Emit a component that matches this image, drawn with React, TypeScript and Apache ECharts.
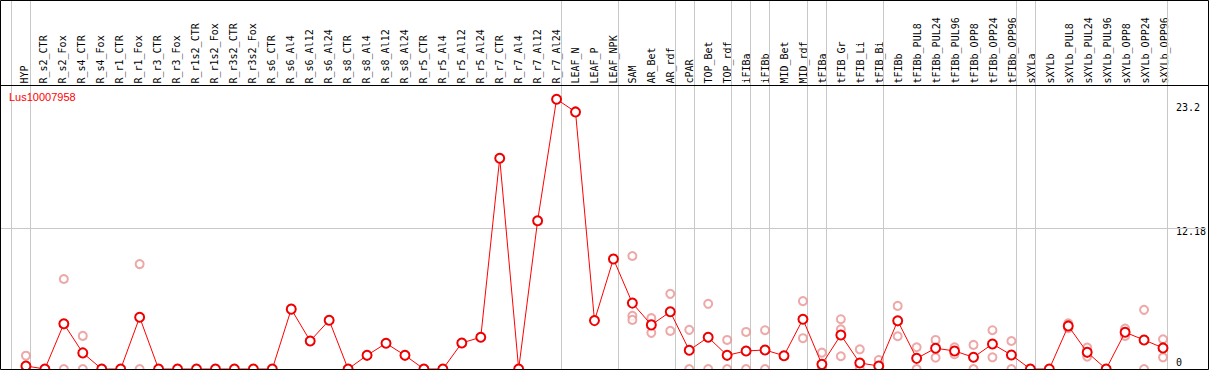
import React, { useEffect, useRef } from "react";
import * as echarts from "echarts";

// ---- data ----
const geneName = "Lus10007958";

const categories = [
  "HYP", "R_s2_CTR", "R_s2_Fox", "R_s4_CTR", "R_s4_Fox", "R_r1_CTR", "R_r1_Fox",
  "R_r3_CTR", "R_r3_Fox", "R_r1s2_CTR", "R_r1s2_Fox", "R_r3s2_CTR", "R_r3s2_Fox",
  "R_s6_CTR", "R_s6_Al4", "R_s6_Al12", "R_s6_Al24", "R_s8_CTR", "R_s8_Al4", "R_s8_Al12",
  "R_s8_Al24", "R_r5_CTR", "R_r5_Al4", "R_r5_Al12", "R_r5_Al24", "R_r7_CTR", "R_r7_Al4",
  "R_r7_Al12", "R_r7_Al24", "LEAF_N", "LEAF_P", "LEAF_NPK", "SAM", "AR_Bet", "AR_rdf",
  "cPAR", "TOP_Bet", "TOP_rdf", "iFIBa", "iFIBb", "MID_Bet", "MID_rdf", "tFIBa",
  "tFIB_Gr", "tFIB_Li", "tFIB_Bi", "tFIBb", "tFIBb_PUL8", "tFIBb_PUL24", "tFIBb_PUL96",
  "tFIBb_OPP8", "tFIBb_OPP24", "tFIBb_OPP96", "sXYLa", "sXYLb", "sXYLb_PUL8",
  "sXYLb_PUL24", "sXYLb_PUL96", "sXYLb_OPP8", "sXYLb_OPP24", "sXYLb_OPP96",
];

const meanValues = [
  0.26, 0, 3.9, 1.39, 0, 0, 4.47,
  0, 0, 0, 0, 0, 0,
  0, 5.17, 2.42, 4.21, 0, 1.18, 2.22,
  1.18, 0, 0, 2.25, 2.74, 18.2, 0,
  12.8, 23.3, 22.2, 4.18, 9.5, 5.69, 3.81, 4.94,
  1.62, 2.74, 1.18, 1.56, 1.64, 1.15, 4.3, 0.4,
  2.94, 0.52, 0.26, 4.16, 0.92, 1.79, 1.56,
  1.01, 2.16, 1.21, 0, 0, 3.72,
  1.44, 0, 3.17, 2.51, 1.82,
];

const replicateA = [
  1.15, null, 7.77, 2.86, null, null, 9.06,
  null, null, null, null, null, null,
  null, null, null, null, null, null, null,
  null, null, null, null, null, null, null,
  null, null, null, null, null, 9.76, 4.39, 6.49,
  3.38, 5.63, 2.51, 3.2, 3.35, null, 5.86, 1.41,
  4.3, 1.7, 0.78, 5.45, 1.88, 2.51, 1.88,
  2.08, 3.35, 2.42, null, null, 3.95,
  1.85, null, 3.49, 5.11, 2.57,
];

const replicateB = [
  0, null, 0, 0, null, null, 0,
  null, null, null, null, null, null,
  null, null, null, null, null, null, null,
  null, null, null, null, null, null, null,
  null, null, null, null, null, 4.59, 3.12, 3.29,
  0, 0, 0, 0, 0, null, 2.66, 0,
  3.43, 0, null, 2.83, 0, 0.98, 1.27,
  0, 1.01, 0, null, null, 3.52,
  1.07, null, 2.86, 0, 1.01,
];

const replicateC = [
  null, null, null, null, null, null, null,
  null, null, null, null, null, null,
  null, null, null, null, null, null, null,
  null, null, null, null, null, null, null,
  null, null, null, null, null, 4.24, null, null,
  null, null, null, null, null, null, null, null,
  1.1, null, null, null, null, null, null,
  null, null, null, null, null, null,
  null, null, null, null, null,
];

// index of the last category of each group (separator drawn just after it)
const groupEnds = [-1, 0, 28, 31, 34, 35, 37, 38, 39, 41, 42, 45, 52, 53, 60];
const yTickValues = [0, 12.18, 23.2];
const gridLineValue = 12.18;

// ---- layout ----
const W = 1209;
const H = 370;
const STEP = 19;
const FIRST_X = 26;
const LABEL_SHIFT = 2;
const PLOT_TOP = 85.5;
const ZERO_Y = 369;
const PX_PER_UNIT = 11.58;
const SEP_OFFSET = 4.5 / STEP;

export default function App() {
  const ref = useRef<HTMLDivElement | null>(null);

  useEffect(() => {
    if (!ref.current) return;
    const chart = echarts.init(ref.current, null, { renderer: "svg" });

    const meanData = meanValues.map((v, i) => [i, v]);
    const repData: number[][] = [];
    [replicateA, replicateB, replicateC].forEach((arr) => {
      arr.forEach((v, i) => {
        if (v !== null && v !== undefined) repData.push([i, v as number]);
      });
    });

    const mono = "'DejaVu Sans Mono', monospace";

    const option: any = {
      animation: false,
      backgroundColor: "#ffffff",
      title: {
        text: geneName,
        left: 9,
        top: 91,
        padding: 0,
        textStyle: {
          color: "#ff0000",
          fontSize: 11,
          fontWeight: "normal",
          fontFamily: "'Liberation Sans', Arial, sans-serif",
        },
      },
      grid: [
        { left: 0, right: 0, top: 0, bottom: H - ZERO_Y },
        {
          left: FIRST_X - STEP / 2 - LABEL_SHIFT,
          width: STEP * categories.length,
          top: PLOT_TOP,
          bottom: H - ZERO_Y,
        },
      ],
      xAxis: [
        {
          type: "value",
          gridIndex: 0,
          min: -FIRST_X / STEP,
          max: (W - FIRST_X) / STEP,
          show: false,
          splitLine: { show: false },
        },
        {
          type: "category",
          gridIndex: 1,
          position: "top",
          data: categories,
          boundaryGap: true,
          axisLine: { show: false },
          axisTick: { show: false },
          splitLine: { show: false },
          axisLabel: {
            rotate: 90,
            interval: 0,
            margin: 2,
            color: "#000",
            fontFamily: mono,
            fontSize: 10,
          },
        },
      ],
      yAxis: [
        {
          type: "value",
          gridIndex: 0,
          position: "right",
          min: 0,
          max: ZERO_Y / PX_PER_UNIT,
          axisLine: { show: false },
          axisTick: { show: false },
          splitLine: { show: false },
          axisLabel: {
            inside: true,
            customValues: yTickValues,
            margin: 30,
            align: "left",
            color: "#000",
            fontFamily: mono,
            fontSize: 10,
            formatter: (v: number) => {
              const key = v === 0 ? "z" : v === gridLineValue ? "m" : "t";
              return "{" + key + "|" + String(v) + "}";
            },
            rich: {
              z: { padding: [0, 0, 14, 0], fontFamily: mono, fontSize: 10, color: "#000" },
              m: { padding: [8, 0, 0, 0], fontFamily: mono, fontSize: 10, color: "#000" },
              t: { padding: [14, 0, 0, 0], fontFamily: mono, fontSize: 10, color: "#000" },
            },
          },
        },
        {
          type: "value",
          gridIndex: 1,
          show: false,
          splitLine: { show: false },
        },
      ],
      graphic: [
        {
          type: "rect",
          silent: true,
          z: 100,
          shape: { x: 0.5, y: 0.5, width: W - 1, height: ZERO_Y },
          style: { fill: "none", stroke: "#000", lineWidth: 1 },
        },
        {
          type: "line",
          silent: true,
          z: 100,
          shape: { x1: 0, y1: PLOT_TOP, x2: W, y2: PLOT_TOP },
          style: { stroke: "#000", lineWidth: 1 },
        },
      ],
      series: [
        {
          type: "scatter",
          xAxisIndex: 0,
          yAxisIndex: 0,
          data: repData,
          symbol: "emptyCircle",
          symbolSize: 8,
          z: 2,
          clip: false,
          itemStyle: { color: "#e89292", borderWidth: 1.3 },
          silent: true,
        },
        {
          type: "line",
          xAxisIndex: 0,
          yAxisIndex: 0,
          data: meanData,
          symbol: "emptyCircle",
          symbolSize: 9,
          z: 3,
          clip: false,
          lineStyle: { color: "#ff0000", width: 1 },
          itemStyle: { color: "#ee0000", borderWidth: 1.3 },
          silent: true,
          markLine: {
            silent: true,
            symbol: "none",
            z: 1,
            label: { show: false },
            lineStyle: { color: "#c8c8c8", width: 1, type: "solid" },
            data: [
              ...groupEnds.map((g) => ({ xAxis: g + SEP_OFFSET })),
              { yAxis: gridLineValue },
            ],
          },
        },
      ],
    };

    chart.setOption(option);
    return () => chart.dispose();
  }, []);

  return (
    <div
      ref={ref}
      style={{ position: "fixed", left: 0, top: 0, width: W, height: H }}
    />
  );
}
